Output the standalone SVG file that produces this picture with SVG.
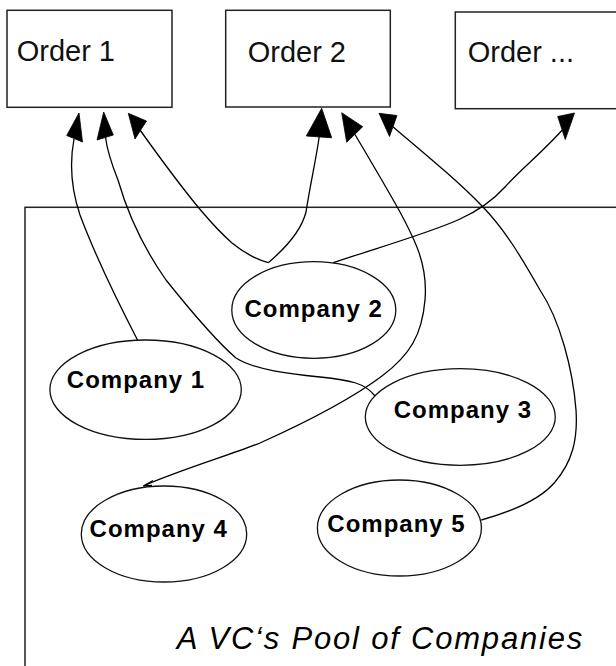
<svg xmlns="http://www.w3.org/2000/svg" width="616" height="666" viewBox="0 0 616 666">
<style>
.box{fill:#fff;stroke:#222;stroke-width:1.5}
.ell{fill:#fff;stroke:#111;stroke-width:1.3}
.ord{font-family:"Liberation Sans",Arial,sans-serif;font-size:29px;fill:#111}
.comp{font-family:"Liberation Sans",Arial,sans-serif;font-size:24px;font-weight:bold;letter-spacing:1px;fill:#000}
.cap{font-family:"Liberation Sans",Arial,sans-serif;font-size:31px;font-style:italic;letter-spacing:1.8px;fill:#000}
.con{fill:none;stroke:#000;stroke-width:1.3}
.head{fill:#000;stroke:#000;stroke-width:0.8;stroke-linejoin:miter}
</style>
<rect x="0" y="0" width="616" height="666" fill="#fff"/>
<g id="pool">
<rect class="box" x="25" y="207.3" width="620" height="500"/>
<text class="cap" x="176.7" y="649.3">A VC‘s Pool of Companies</text>
</g>
<g id="order1">
<rect class="box" x="7" y="10.3" width="165" height="97"/>
<text class="ord" x="16.7" y="60.7">Order 1</text>
</g>
<g id="order2">
<rect class="box" x="225.7" y="10.3" width="164.6" height="96.7"/>
<text class="ord" x="247.7" y="62">Order 2</text>
</g>
<g id="order3">
<rect class="box" x="455.3" y="12" width="200" height="96.7"/>
<text class="ord" x="467.7" y="62">Order ...</text>
</g>
<g id="company2">
<ellipse class="ell" cx="313.8" cy="310" rx="82" ry="48.3"/>
<text class="comp" x="244.4" y="317.3">Company 2</text>
</g>
<g id="company1">
<ellipse class="ell" cx="145.6" cy="389.7" rx="95.7" ry="49.7"/>
<text class="comp" x="66.8" y="388.3">Company 1</text>
</g>
<g id="company3">
<ellipse class="ell" cx="460.3" cy="417" rx="95" ry="48.3"/>
<text class="comp" x="393.7" y="418.3">Company 3</text>
</g>
<g id="company4">
<ellipse class="ell" cx="164" cy="534" rx="82.7" ry="48"/>
<text class="comp" x="89.6" y="537.3">Company 4</text>
</g>
<g id="company5">
<ellipse class="ell" cx="399.4" cy="528" rx="82" ry="48"/>
<text class="comp" x="327.3" y="531.7">Company 5</text>
</g>
<g id="connectors">
<path class="con" d="M137.5,340 C122,310 95,255 80,215 C70,185 70,160 74,139"/>
<polygon class="head" points="79,113 66.7,135.5 82.5,142"/>
<path class="con" d="M375,396 C365,383 350,380 320,377 C290,374 255,370 236,358 C215,340 190,310 166,280 C145,250 128,215 118,180 C110,160 107,150 105.5,137"/>
<polygon class="head" points="103.7,112 97,140 113.3,135"/>
<path class="con" d="M268.3,262.7 C255,259 243,252 232,243 C215,228 205,215 198,207 C180,185 160,158 140,130"/>
<polygon class="head" points="128.3,113.3 146.5,121 135,139"/>
<path class="con" d="M268.3,262.7 C288,246 302,228 306,212 C311,180 316,160 319.3,136"/>
<polygon class="head" points="321.7,108.3 306.3,136 331.7,137.8"/>
<path class="con" d="M143.3,486 C180,470 230,455 260,443 C300,425 350,400 382,376 C410,355 422,335 425,300 C428,265 415,240 400,212 C385,185 370,160 355,134.5"/>
<path class="con" d="M153,480.5 L143.5,486 L152,485.5"/>
<polygon class="head" points="341.7,112.7 362.7,126.7 346.7,142.3"/>
<path class="con" d="M481.3,520 C510,512 540,500 555,482 C572,462 578,440 576,410 C573,370 560,320 540,290 C520,255 505,230 483,207 C460,183 430,158 392,126"/>
<polygon class="head" points="379,113.3 397,115.5 389.5,136.5"/>
<path class="con" d="M333.3,262.7 C370,250 430,233 460,219 C480,210 495,198 505,187 C520,170 545,150 564,128"/>
<polygon class="head" points="574.5,113 557.7,116.5 565.3,139.5"/>
</g>
</svg>
